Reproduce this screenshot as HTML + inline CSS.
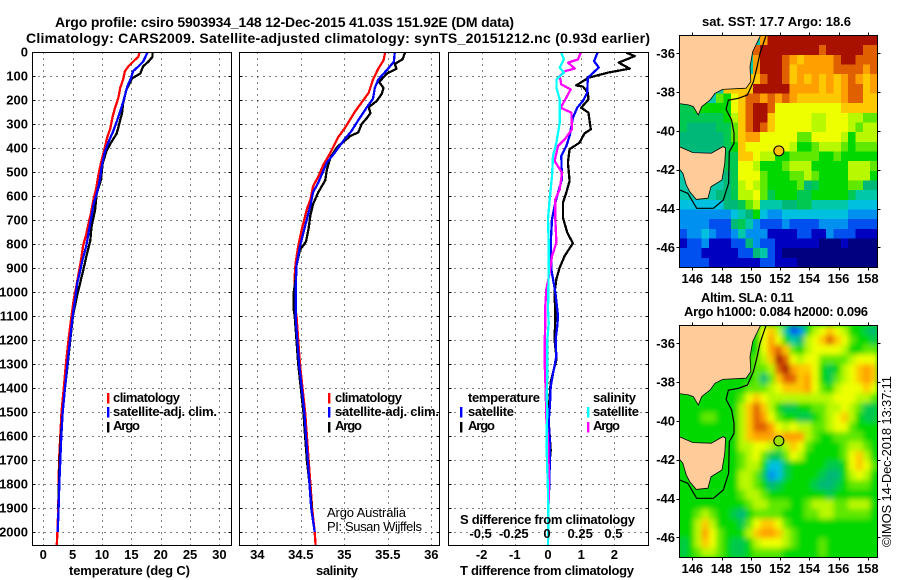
<!DOCTYPE html>
<html>
<head>
<meta charset="utf-8">
<title>Argo profile</title>
<style>
html,body{margin:0;padding:0;background:#fff;width:900px;height:580px;overflow:hidden}
svg{display:block}
text{font-family:"Liberation Sans",sans-serif;font-size:13px;font-weight:bold;fill:#000}
.r{font-weight:normal}
</style>
</head>
<body>
<svg id="fig" xmlns="http://www.w3.org/2000/svg" width="900" height="580" viewBox="0 0 900 580">
<defs>
<clipPath id="c1"><rect x="32.5" y="52" width="198.5" height="493"/></clipPath>
<clipPath id="c2"><rect x="239.5" y="52" width="200" height="493"/></clipPath>
<clipPath id="c3"><rect x="448.5" y="52" width="200" height="493"/></clipPath>
<clipPath id="cm1"><rect x="679.5" y="35.5" width="198" height="232"/></clipPath>
<clipPath id="cm2"><rect x="679.5" y="325.5" width="198" height="232"/></clipPath>
<filter id="soft" x="-5%" y="-5%" width="110%" height="110%"><feGaussianBlur stdDeviation="2.6"/></filter>
</defs>
<rect width="900" height="580" fill="#fff"/>
<text x="55" y="27" style="font-size:14px" textLength="459">Argo profile: csiro 5903934_148 12-Dec-2015 41.03S 151.92E (DM data)</text>
<text x="26" y="43" style="font-size:14px" textLength="624">Climatology: CARS2009. Satellite-adjusted climatology: synTS_20151212.nc (0.93d earlier)</text>
<g id="plots"></g>
<g id="maps"></g>

<text x="69" y="575" textLength="121">temperature (deg C)</text>
<text x="316" y="575" textLength="42">salinity</text>
<text x="460" y="575" textLength="174">T difference from climatology</text>
<text x="460" y="524" textLength="175">S difference from climatology</text>

<g>
<rect x="107" y="393" width="2.4" height="10.5" fill="#f00"/>
<rect x="107" y="407" width="2.4" height="10.5" fill="#00f"/>
<rect x="107" y="422" width="2.4" height="10.5" fill="#000"/>
<text x="113" y="402" textLength="67">climatology</text>
<text x="113" y="416" textLength="104">satellite-adj. clim.</text>
<text x="113" y="430" textLength="27">Argo</text>
</g>
<g>
<rect x="328" y="393" width="2.4" height="10.5" fill="#f00"/>
<rect x="328" y="407" width="2.4" height="10.5" fill="#00f"/>
<rect x="328" y="422" width="2.4" height="10.5" fill="#000"/>
<text x="335" y="402" textLength="67">climatology</text>
<text x="335" y="416" textLength="104">satellite-adj. clim.</text>
<text x="335" y="430" textLength="27">Argo</text>
</g>
<text class="r" x="327" y="517" textLength="79">Argo Australia</text>
<text class="r" x="327" y="531" textLength="95">PI: Susan Wijffels</text>
<g>
<text x="468" y="402" textLength="72">temperature</text>
<text x="593" y="402" textLength="43">salinity</text>
<rect x="460" y="407" width="2.4" height="10.5" fill="#00f"/>
<rect x="460" y="422" width="2.4" height="10.5" fill="#000"/>
<rect x="587" y="407" width="2.4" height="10.5" fill="#0ff"/>
<rect x="587" y="422" width="2.4" height="10.5" fill="#f0f"/>
<text x="468" y="416" textLength="46">satellite</text>
<text x="468" y="430" textLength="27">Argo</text>
<text x="593" y="416" textLength="46">satellite</text>
<text x="593" y="430" textLength="27">Argo</text>
</g>
<text x="702" y="26" textLength="149">sat. SST: 17.7 Argo: 18.6</text>
<text x="701" y="302" textLength="93">Altim. SLA: 0.11</text>
<text x="684" y="316" textLength="184">Argo h1000: 0.084 h2000: 0.096</text>
<text class="r" transform="translate(891,547) rotate(-90)" x="0" y="0" textLength="171">©IMOS 14-Dec-2018 13:37:11</text>
</svg>
<script>
// ---- axis tick data ----
const depthTicks = [0,100,200,300,400,500,600,700,800,900,1000,1100,1200,1300,1400,1500,1600,1700,1800,1900,2000];
const tempTicks = [0,5,10,15,20,25,30];
const salTicks = [34,34.5,35,35.5,36];
const salTickLabels = ['34','34.5','35','35.5','36'];
const dtTicks = [-2,-1,0,1,2];
const dtTickLabels = ['-2','-1','0','1','2'];
const dsTicks = [-0.5,-0.25,0,0.25,0.5];
const dsTickLabels = ['-0.5','-0.25','0','0.25','0.5'];
const lonTicks = [146,148,150,152,154,156,158];
const latTicks = [36,38,40,42,44,46];

// ---- temperature profiles ----
const tClimDepth = [0,20,40,60,80,115,150,190,235,270,320,355,415,465,510,570,620,675,715,760,805,870,925,980,1030,1100,1200,1300,1400,1500,1600,1700,1800,1900,2000,2054];
const tClim = [16.4,16.2,15.3,14.5,13.9,13.6,13.1,12.8,12.2,11.8,11.4,10.9,10.3,9.8,9.4,9.0,8.5,8.1,7.7,7.3,6.8,6.4,6.0,5.6,5.2,4.8,4.3,3.85,3.5,3.1,2.9,2.7,2.6,2.55,2.4,2.3];
const tSatDepth = [0,40,60,80,110,145,200,240,290,330,375,415,470,535,590,630,685,755,810,865,920,960,1025,1100,1200,1300,1400,1500,1600,1700,1800,1900,2000];
const tSat = [17.8,17.0,16.2,15.3,14.9,14.3,13.7,13.2,12.5,11.9,11.1,10.5,10.0,9.6,9.1,8.6,8.2,7.7,7.3,6.7,6.2,5.8,5.45,5.0,4.55,4.1,3.7,3.3,3.07,2.9,2.73,2.6,2.45];
const tArgoDepth = [0,20,40,60,90,110,140,160,215,255,340,375,410,465,535,590,660,730,785,855,910,965,1020,1100,1200,1300,1400,1500,1600,1700,1800,1900];
const tArgo = [18.6,18.6,17.9,17.0,16.5,15.1,14.5,14.1,13.6,13.4,12.5,11.6,10.8,10.1,9.8,9.1,8.8,8.2,8.0,7.3,6.8,6.25,5.7,5.05,4.6,4.15,3.7,3.3,3.0,2.8,2.65,2.55];

// ---- salinity profiles ----
const sClimDepth = [0,35,70,115,170,210,250,315,355,420,470,520,560,615,655,740,810,880,935,1020,1075,1100,1200,1300,1400,1500,1600,1700,1800,1900,2000,2054];
const sClim = [35.47,35.45,35.39,35.33,35.28,35.2,35.12,35.01,34.93,34.84,34.76,34.70,34.64,34.61,34.57,34.51,34.47,34.44,34.43,34.43,34.44,34.45,34.47,34.49,34.52,34.55,34.57,34.59,34.61,34.63,34.66,34.67];
const sSatDepth = [0,40,75,115,150,195,230,285,330,370,420,460,545,585,640,725,810,890,990,1075,1100,1200,1300,1400,1500,1600,1700,1800,1900,2000];
const sSat = [35.58,35.57,35.49,35.39,35.35,35.33,35.26,35.16,35.08,34.99,34.89,34.80,34.70,34.64,34.61,34.55,34.49,34.45,34.44,34.44,34.44,34.46,34.48,34.51,34.54,34.56,34.58,34.60,34.62,34.66];
const sArgoDepth = [0,30,50,70,90,125,150,175,205,230,255,275,300,335,350,395,440,490,535,585,635,680,735,790,825,890,945,1000,1075,1100,1200,1300,1400,1500,1600,1700,1800,1900];
const sArgo = [35.70,35.67,35.58,35.60,35.49,35.40,35.45,35.43,35.37,35.28,35.30,35.26,35.20,35.16,35.07,34.92,34.84,34.80,34.78,34.70,34.64,34.61,34.59,34.56,34.49,34.45,34.44,34.42,34.42,34.43,34.45,34.47,34.50,34.53,34.55,34.57,34.60,34.625];

// ---- difference profiles ----
const dtArgoDepth = [3,17,44,69,86,107,139,144,169,197,232,253,294,322,339,378,405,461,537,586,628,690,753,797,850,899,947,1003,1100,1200,1280,1320,1375,1460,1540,1660,1720,1850];
const dtArgo = [2.36,2.61,2.13,2.46,1.81,1.22,0.85,1.05,1.20,1.22,1.0,1.22,1.26,1.29,1.10,0.95,0.65,0.60,0.65,0.55,0.45,0.45,0.58,0.75,0.50,0.35,0.25,0.20,0.22,0.20,0.26,0.18,0.08,0.04,0.02,0.08,0.04,0.02];
const dtSatDepth = [3,38,65,107,169,204,232,274,350,392,433,531,586,642,697,794,906,1000,1100,1140,1200,1270,1340,1395,1465,1540,1635,1720,1815,1885,2000];
const dtSat = [1.49,1.39,1.53,1.20,1.18,1.05,0.88,0.75,0.65,0.55,0.40,0.42,0.30,0.20,0.12,0.08,0.10,0.22,0.30,0.28,0.23,0.25,0.15,0.08,0.06,0.02,0.06,0.05,0.04,0,0];
const dsArgoDepth = [3,31,44,69,79,100,135,156,190,232,253,322,364,392,454,503,572,614,697,794,850,919,989,1060,1140,1200,1300,1400,1525,1610,1730,1830,1945];
const dsArgo = [0.246,0.226,0.151,0.201,0.131,0.088,0.10,0.171,0.138,0.095,0.176,0.181,0.126,0.075,0.05,0.106,0.088,0.055,0.055,0.063,0.03,0.013,-0.013,-0.02,-0.02,-0.025,-0.025,-0.018,-0.013,0,0.005,0.008,0];
const dsSatDepth = [3,31,65,86,114,149,197,294,378,433,517,614,697,794,906,1072,1130,1200,1340,1435,1505,1575,1690,1830,1970,2054];
const dsSat = [0.10,0.12,0.088,0.12,0.063,0.063,0.088,0.088,0.063,0.038,0.03,0.013,0,0.005,0.005,0,0.005,-0.005,-0.005,-0.01,-0.005,-0.01,-0.008,0,0.003,0];

// ---- map data ----
const argoLon = 151.92;
const argoLat = 41.03;
const mainlandLon = [150.72,150.41,150.13,149.95,150.0,149.68,148.08,147.55,147.21,146.64,146.41,146.07,145.73,145.0,145.0];
const mainlandLat = [35.0,35.48,35.91,36.69,37.46,37.80,37.86,38.06,38.41,38.75,39.18,38.75,38.66,38.58,35.0];
const tasmaniaLon = [145.0,146.05,147.30,148.10,148.28,148.22,148.03,147.28,147.07,146.27,145.82,145.59,145.36,145.0];
const tasmaniaLat = [40.78,41.12,41.15,40.81,40.88,41.65,42.53,42.88,43.47,43.53,43.13,42.79,42.19,41.85];
const isobathLon = [151.05,150.63,150.41,150.18,149.77,149.15,148.47,148.31,148.69,148.85,148.85,148.53,148.48,148.12,147.44,146.30,145.7,145.0];
const isobathLat = [35.07,36.0,36.77,37.46,38.15,38.32,38.41,38.89,39.44,40.12,40.64,41.07,42.70,43.56,43.99,43.99,43.22,43.0];
const palette = ['#000080','#0000c0','#0050f0','#0090f0','#00c0e0','#00c8a8','#00b878','#00c850','#00d800','#60e800','#b8f800','#eeff00','#ffc800','#ffa000','#e06000','#a81000'];
const sstGrid = [
[5,5,5,5,5,5,5,5,5,5,5,13,15,15,15,15,15,15,15,15,15,15,15,15,15,15,15],
[5,5,5,5,5,5,5,5,5,5,14,15,15,15,15,15,15,15,15,14,15,15,15,15,15,14,14],
[5,5,5,5,5,5,5,5,5,5,13,15,15,15,14,13,12,13,13,13,13,14,15,15,14,14,14],
[5,5,5,5,5,5,5,5,5,5,13,15,15,15,14,12,13,13,13,13,13,14,14,14,14,13,14],
[5,5,5,5,5,5,5,5,5,12,12,14,15,15,14,12,13,12,13,12,13,12,13,14,13,12,13],
[5,5,5,5,5,5,12,12,12,12,15,15,15,15,15,13,13,13,13,12,13,12,13,14,14,12,13],
[5,5,5,5,5,9,8,11,12,14,14,13,14,13,14,13,12,12,12,12,12,12,13,14,14,12,12],
[7,7,8,8,8,8,8,11,12,14,15,15,14,11,11,11,11,11,11,11,11,11,12,12,12,12,12],
[7,7,7,7,7,7,8,10,12,14,15,15,12,11,11,11,11,11,10,10,11,11,11,10,10,9,9],
[7,6,6,6,6,7,7,9,12,14,15,14,12,11,11,11,11,11,10,10,11,11,11,10,9,10,10],
[6,6,6,6,6,6,7,9,12,13,13,11,11,11,11,11,9,9,11,11,11,11,10,8,10,10,10],
[6,6,6,6,6,6,7,8,12,11,11,11,11,11,11,10,8,8,9,10,10,10,9,8,9,9,9],
[5,5,5,5,5,5,7,7,12,12,11,10,10,8,8,9,9,9,9,8,8,9,8,8,8,8,8],
[5,5,5,5,5,5,7,7,11,11,10,8,8,8,9,10,10,10,8,8,8,8,8,10,10,10,9],
[5,5,5,5,5,5,6,7,11,11,11,9,8,8,8,9,9,10,9,8,8,8,8,10,10,10,8],
[5,5,5,5,5,5,6,7,10,11,10,9,8,8,8,8,9,6,7,8,8,8,8,9,9,6,6],
[5,5,5,5,5,6,6,7,10,10,11,9,7,8,8,8,7,7,8,8,8,8,8,7,5,5,5],
[4,4,4,4,4,4,6,6,7,9,10,5,5,5,6,6,7,7,5,5,5,5,5,4,4,4,4],
[3,3,3,3,3,3,3,4,5,6,8,4,3,3,4,4,4,4,4,4,4,4,4,3,3,3,3],
[3,3,3,3,2,2,2,6,7,5,3,2,2,2,3,2,2,2,2,3,3,3,3,2,2,2,2],
[2,3,3,4,3,2,2,3,5,3,3,3,1,1,1,1,2,2,1,1,3,2,2,2,1,1,1],
[1,2,2,3,1,1,1,2,2,6,3,2,2,1,1,1,1,1,1,0,0,0,1,0,0,0,0],
[2,2,2,1,1,1,1,1,2,2,6,5,2,1,0,0,0,0,0,0,0,0,0,0,0,0,0],
[2,2,2,2,1,1,1,1,1,1,1,2,2,1,1,1,0,0,0,0,0,0,0,0,0,0,0]
];
const slaGrid = [
[8,8,8,8,8,8,8,8,8,8,8,11,12,10,5,2,3,8,10,11,12,11,10,8,8,7,6],
[8,8,8,8,8,8,8,8,8,8,8,11,13,11,8,5,6,10,11,12,14,12,11,9,8,8,7],
[8,8,8,8,8,8,8,8,8,8,8,11,13,14,12,9,8,10,11,11,11,11,10,8,8,9,9],
[8,8,8,8,8,8,8,8,8,8,9,10,12,15,14,11,10,11,11,9,9,9,9,10,11,11,11],
[8,8,8,8,8,8,8,8,8,8,9,9,10,14,15,13,12,12,11,8,7,8,10,11,12,13,12],
[8,8,8,8,8,8,8,8,8,8,9,6,9,12,14,14,12,13,11,8,7,9,10,11,12,13,12],
[8,8,8,8,8,8,8,8,8,9,9,9,10,11,12,12,12,13,11,9,8,10,11,11,11,12,11],
[8,8,8,8,8,8,8,8,9,11,12,11,10,10,10,10,10,10,10,10,10,11,11,11,10,10,9],
[8,8,8,8,8,8,8,8,10,12,14,12,10,8,7,7,8,8,9,9,10,10,11,10,9,7,7],
[8,8,8,9,9,8,8,8,10,12,14,13,11,9,8,8,7,7,8,9,10,11,12,10,8,7,7],
[8,8,8,8,8,8,8,8,10,12,14,14,13,11,10,11,10,10,9,9,10,11,11,9,8,8,8],
[8,8,8,8,8,8,8,8,10,12,13,13,13,12,13,13,13,10,9,8,8,9,9,9,9,8,8],
[8,8,8,8,8,8,8,8,10,10,11,11,10,9,10,12,11,9,8,8,8,8,9,10,10,9,8],
[8,8,8,8,8,8,8,8,9,10,11,9,7,7,9,11,10,8,8,8,8,8,9,11,12,10,8],
[8,8,8,8,8,8,8,8,9,10,10,8,4,4,7,8,8,8,8,8,7,7,8,11,12,11,9],
[8,8,8,8,8,8,8,8,10,10,9,7,3,4,7,8,8,8,8,7,6,6,8,10,11,10,8],
[8,8,8,8,8,8,8,8,10,10,9,8,6,7,8,8,8,8,7,6,6,7,8,9,9,9,8],
[8,8,8,8,8,8,8,8,9,10,10,9,8,8,8,8,8,8,8,8,7,8,8,8,8,8,8],
[8,8,8,8,8,8,8,8,8,9,10,10,9,9,9,8,8,9,10,10,10,9,9,10,10,10,8],
[8,8,9,10,9,8,8,7,6,8,9,9,9,9,8,8,8,9,9,10,10,9,9,9,9,9,8],
[8,8,10,12,10,8,8,8,7,9,11,12,12,11,9,8,8,8,8,8,8,8,8,8,8,8,8],
[8,8,10,13,11,9,8,8,8,10,12,13,13,12,10,9,8,8,8,8,8,8,8,8,8,8,8],
[7,8,10,12,11,9,8,7,7,8,10,11,11,11,10,9,8,8,8,9,8,8,8,8,8,8,8],
[7,8,9,10,10,9,8,7,7,8,9,9,9,9,8,8,8,8,8,9,8,8,8,8,8,8,8]
];

// ---- scales ----
const SVGNS = 'http://www.w3.org/2000/svg';
const depthY = d => 52 + 0.24 * d;
const tempX = v => 43.3 + 5.87 * v;
const salX = v => 257.3 + 87 * (v - 34);
const dtX = v => 548 + 33.2 * v;
const dsX = v => 548 + 132.8 * v;
const lonX = v => 692.3 + 14.62 * (v - 146);
const latY1 = v => 53.3 + 19.4 * (v - 36);
const latY2 = v => 343.3 + 19.4 * (v - 36);

function mk(parent, tag, attrs, txt) {
  const el = document.createElementNS(SVGNS, tag);
  for (const k in attrs) el.setAttribute(k, attrs[k]);
  if (txt !== undefined) el.textContent = txt;
  parent.appendChild(el);
  return el;
}

const plots = document.getElementById('plots');
const maps = document.getElementById('maps');

function drawPanel(box, xScale, xTicks, xLabels, clip, name, depthLabels) {
  const g = mk(plots, 'g', {});
  
  
  depthTicks.forEach(function (d) {
    const y = Math.round(depthY(d)) + 0.5;
    const line = mk(g, 'line', {x1: box.l, x2: box.r, y1: y, y2: y, stroke: '#000', 'stroke-width': 1, 'stroke-dasharray': '1 5', 'shape-rendering': 'crispEdges'});
    
    
    const t1 = mk(g, 'line', {x1: box.l, x2: box.l + 3, y1: y, y2: y, stroke: '#000', 'shape-rendering': 'crispEdges'});
    
    
    const t2 = mk(g, 'line', {x1: box.r - 3, x2: box.r, y1: y, y2: y, stroke: '#000', 'shape-rendering': 'crispEdges'});
    
    
    if (depthLabels) {
      const lab = mk(g, 'text', {x: 28, y: depthY(d) + 4.5, 'text-anchor': 'end'}, String(d));
      
      
    }
  });
  xTicks.forEach(function (v, i) {
    const x = Math.round(xScale(v)) + 0.5;
    const line = mk(g, 'line', {x1: x, x2: x, y1: box.t, y2: box.b, stroke: '#000', 'stroke-width': 1, 'stroke-dasharray': '1 5', 'shape-rendering': 'crispEdges'});
    
    
    const lab = mk(g, 'text', {x: xScale(v), y: 559, 'text-anchor': 'middle'}, xLabels[i]);
    
    
  });
  const series = mk(g, 'g', {'clip-path': 'url(#' + clip + ')'});
  
  
  const frame = mk(g, 'rect', {x: box.l, y: box.t, width: box.r - box.l, height: box.b - box.t, fill: 'none', stroke: '#000', 'stroke-width': 1.2, 'shape-rendering': 'crispEdges'});
  
  
  return series;
}

function drawLine(parent, xs, ds, xScale, colour, name) {
  const pts = xs.map(function (v, i) { return xScale(v).toFixed(1) + ',' + depthY(ds[i]).toFixed(1); }).join(' ');
  const el = mk(parent, 'polyline', {points: pts, fill: 'none', stroke: colour, 'stroke-width': 2.3, 'stroke-linejoin': 'round', 'shape-rendering': 'crispEdges'});
  
  
}

const s1 = drawPanel({l: 32.5, r: 231.5, t: 52.5, b: 545.5}, tempX, tempTicks, tempTicks.map(String), 'c1', 'temperature-panel', true);
drawLine(s1, tClim, tClimDepth, tempX, '#f00', 'temperature-climatology-line');
drawLine(s1, tArgo, tArgoDepth, tempX, '#000', 'temperature-argo-line');
drawLine(s1, tSat, tSatDepth, tempX, '#00f', 'temperature-satellite-line');

const s2 = drawPanel({l: 239.5, r: 439.5, t: 52.5, b: 545.5}, salX, salTicks, salTickLabels, 'c2', 'salinity-panel', false);
drawLine(s2, sClim, sClimDepth, salX, '#f00', 'salinity-climatology-line');
drawLine(s2, sArgo, sArgoDepth, salX, '#000', 'salinity-argo-line');
drawLine(s2, sSat, sSatDepth, salX, '#00f', 'salinity-satellite-line');

const s3 = drawPanel({l: 448.5, r: 648.5, t: 52.5, b: 545.5}, dtX, dtTicks, dtTickLabels, 'c3', 'difference-panel', false);
drawLine(s3, dtArgo, dtArgoDepth, dtX, '#000', 'difference-t-argo-line');
drawLine(s3, dtSat, dtSatDepth, dtX, '#00f', 'difference-t-satellite-line');
drawLine(s3, dsArgo, dsArgoDepth, dsX, '#f0f', 'difference-s-argo-line');
drawLine(s3, dsSat, dsSatDepth, dsX, '#0ff', 'difference-s-satellite-line');

dsTicks.forEach(function (v, i) {
  const lab = mk(plots, 'text', {x: dsX(v) - 1, y: 538, 'text-anchor': 'middle'}, dsTickLabels[i]);
  
  
});

function path(lons, lats, latY, close) {
  return lons.map(function (v, i) { return (i ? 'L' : 'M') + lonX(v).toFixed(1) + ' ' + latY(lats[i]).toFixed(1); }).join(' ') + (close ? 'Z' : '');
}

function drawMap(grid, box, latY, clip, name, blur, markerFill, labelY) {
  const g = mk(maps, 'g', {});
  
  
  const clipG = mk(g, 'g', {'clip-path': 'url(#' + clip + ')'});
  
  
  const bg = mk(clipG, 'rect', {x: box.l, y: box.t, width: box.r - box.l, height: box.b - box.t, fill: palette[8]});
  
  
  const cells = mk(clipG, 'g', blur ? {filter: 'url(#soft)'} : {'shape-rendering': 'crispEdges'});
  
  
  const cw = (box.r - box.l) / 27, ch = (box.b - box.t) / 24;
  grid.forEach(function (row, j) {
    row.forEach(function (level, i) {
      const c = mk(cells, 'rect', {x: box.l + i * cw, y: box.t + j * ch, width: cw + 0.4, height: ch + 0.4, fill: palette[level]});
      
      
    });
  });
  const land1 = mk(clipG, 'path', {d: path(mainlandLon, mainlandLat, latY, true), fill: '#ffcc99', stroke: '#000', 'stroke-width': 0.8});
  
  
  const land2 = mk(clipG, 'path', {d: path(tasmaniaLon, tasmaniaLat, latY, true), fill: '#ffcc99', stroke: '#000', 'stroke-width': 0.8});
  
  
  const iso = mk(clipG, 'path', {d: path(isobathLon, isobathLat, latY, false), fill: 'none', stroke: '#000', 'stroke-width': 1.2});
  
  
  const marker = mk(clipG, 'circle', {cx: lonX(argoLon), cy: latY(argoLat), r: 5, fill: markerFill, stroke: '#000', 'stroke-width': 1.1});
  
  
  const frame = mk(g, 'rect', {x: box.l, y: box.t, width: box.r - box.l, height: box.b - box.t, fill: 'none', stroke: '#000', 'stroke-width': 1.1, 'shape-rendering': 'crispEdges'});
  
  
  lonTicks.forEach(function (v) {
    const x = Math.round(lonX(v)) + 0.5;
    const top = mk(g, 'line', {x1: x, x2: x, y1: box.t - 3, y2: box.t, stroke: '#000', 'shape-rendering': 'crispEdges'});
    
    
    const bot = mk(g, 'line', {x1: x, x2: x, y1: box.b, y2: box.b + 3, stroke: '#000', 'shape-rendering': 'crispEdges'});
    
    
    const lab = mk(g, 'text', {x: lonX(v), y: labelY, 'text-anchor': 'middle'}, String(v));
    
    
  });
  latTicks.forEach(function (v) {
    const y = Math.round(latY(v)) + 0.5;
    const l = mk(g, 'line', {x1: box.l - 3, x2: box.l, y1: y, y2: y, stroke: '#000', 'shape-rendering': 'crispEdges'});
    
    
    const r = mk(g, 'line', {x1: box.r, x2: box.r + 3, y1: y, y2: y, stroke: '#000', 'shape-rendering': 'crispEdges'});
    
    
    const lab = mk(g, 'text', {x: 675, y: latY(v) + 4.5, 'text-anchor': 'end'}, '-' + v);
    
    
  });
}

drawMap(sstGrid, {l: 679.5, r: 877.5, t: 35.5, b: 267.5}, latY1, 'cm1', 'sst-map', false, '#ffc000', 283);
drawMap(slaGrid, {l: 679.5, r: 877.5, t: 325.5, b: 557.5}, latY2, 'cm2', 'sla-map', true, '#a0e000', 573);
</script>
</body>
</html>
